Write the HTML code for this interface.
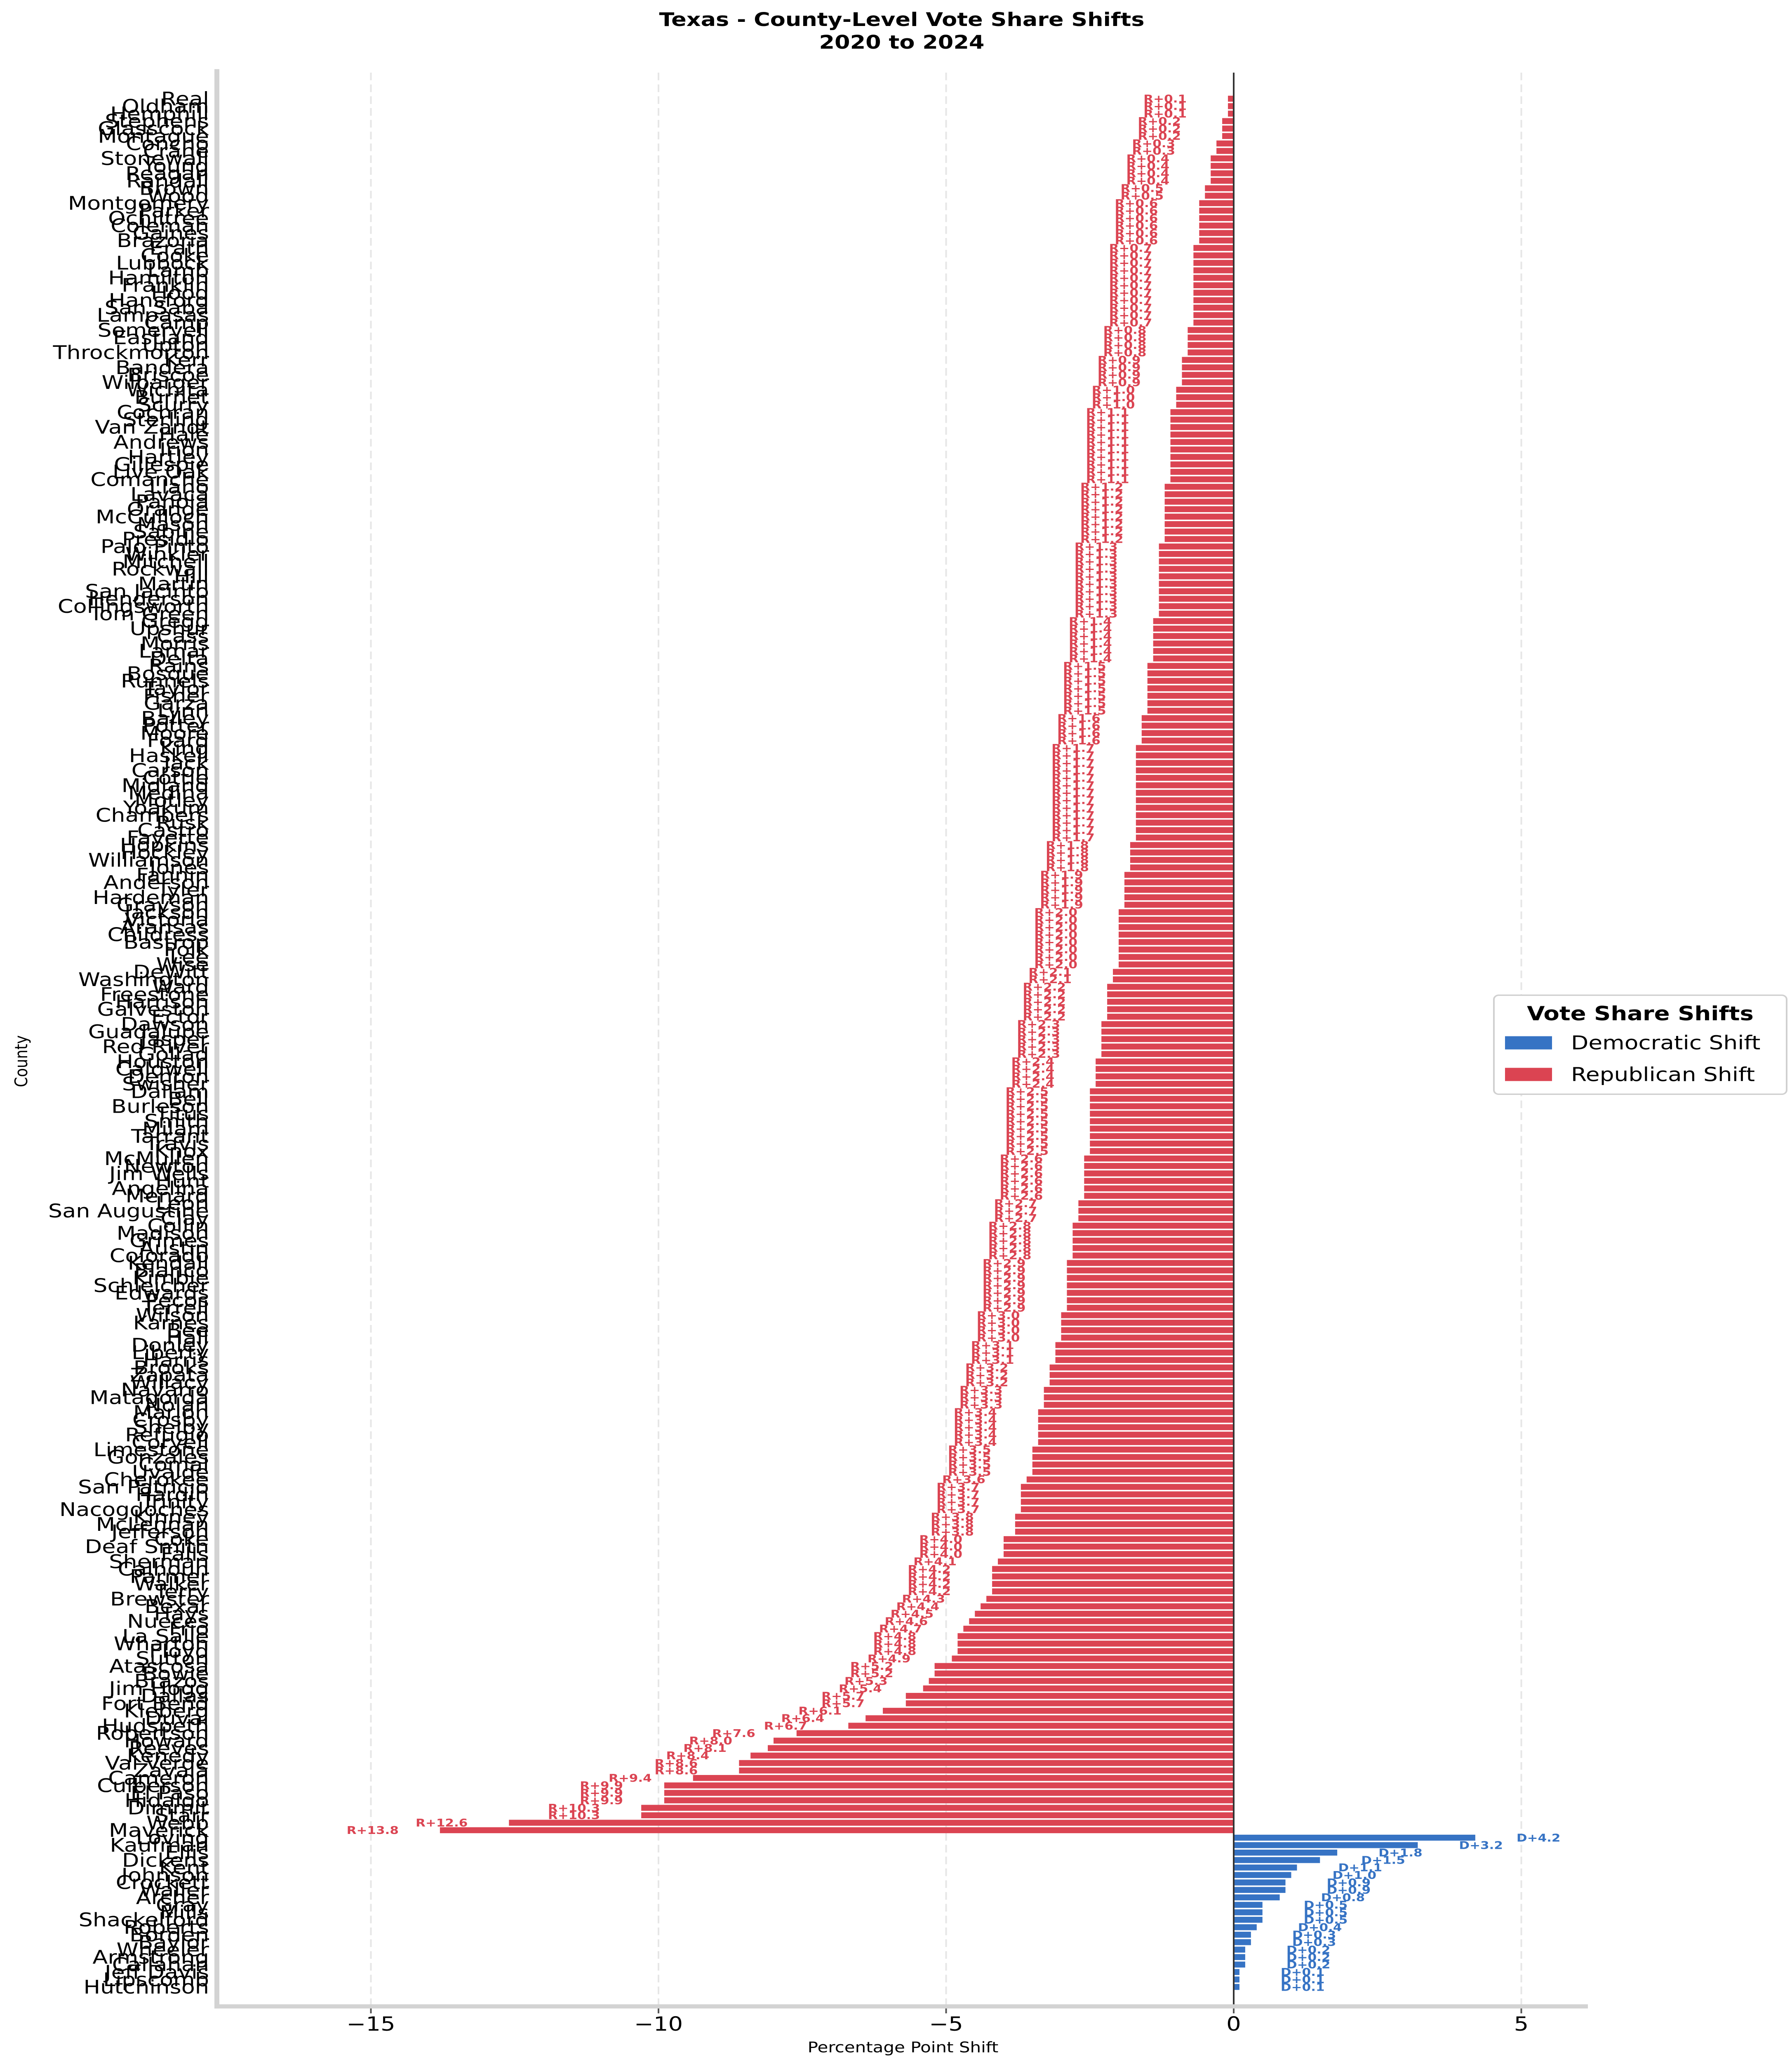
<!DOCTYPE html>
<html><head><meta charset="utf-8">
<style>
html,body{margin:0;padding:0;background:#fff;width:100%;height:100%;overflow:hidden;}
svg{display:block;position:fixed;left:0;top:0;width:100vw;height:100vh;font-family:"DejaVu Sans","Liberation Sans",sans-serif;}
</style></head>
<body>
<svg id="chart" xmlns="http://www.w3.org/2000/svg" viewBox="0 0 4346 5934" preserveAspectRatio="none">
<rect x="0" y="0" width="4346" height="5934" fill="#fff"/>
<text x="2187" y="75" text-anchor="middle" font-size="54" font-weight="bold">Texas - County-Level Vote Share Shifts</text>
<text x="2187" y="140" text-anchor="middle" font-size="54" font-weight="bold">2020 to 2024</text>
<g id="grid"></g>
<g id="bars"></g>
<g id="ylabels"></g>
<g id="xaxis"></g>
<text x="2190" y="5906" text-anchor="middle" font-size="42">Percentage Point Shift</text>
<text transform="translate(66,3054) rotate(-90)" text-anchor="middle" font-size="42">County</text>
<g>
<rect x="3623" y="2864" width="710" height="285" rx="12" fill="#fff" stroke="#d0d0d0" stroke-width="4"/>
<text x="3978" y="2936" text-anchor="middle" font-size="56" font-weight="bold">Vote Share Shifts</text>
<rect x="3650" y="2982" width="114" height="38" fill="#3673C4"/>
<text x="3810" y="3020" font-size="55">Democratic Shift</text>
<rect x="3650" y="3073" width="114" height="38" fill="#DB4452"/>
<text x="3810" y="3111" font-size="55">Republican Shift</text>
</g>
</svg>
<script>
const counties = ["Real","Oldham","Hemphill","Stephens","Glasscock","Montague","Concho","Crane","Stonewall","Young","Reagan","Randall","Brown","Wood","Montgomery","Parker","Ochiltree","Coleman","Gaines","Brazoria","Erath","Cooke","Lubbock","Lamb","Hamilton","Franklin","Hood","Hansford","San Saba","Lampasas","Camp","Somervell","Eastland","Upton","Throckmorton","Kerr","Bandera","Briscoe","Wilbarger","Wichita","Burnet","Scurry","Cochran","Sterling","Van Zandt","Hale","Andrews","Irion","Hartley","Gillespie","Live Oak","Comanche","Llano","Lavaca","Panola","Orange","McCulloch","Mason","Sabine","Presidio","Palo Pinto","Winkler","Mitchell","Rockwall","Hill","Martin","San Jacinto","Henderson","Collingsworth","Tom Green","Gregg","Upshur","Cass","Morris","Lamar","Delta","Rains","Bosque","Runnels","Taylor","Fisher","Garza","Lynn","Bailey","Potter","Moore","Foard","King","Haskell","Jack","Carson","Cottle","Midland","Medina","Motley","Yoakum","Chambers","Rusk","Castro","Fayette","Hopkins","Hockley","Williamson","Jones","Fannin","Anderson","Tyler","Hardeman","Grayson","Jackson","Victoria","Aransas","Childress","Bastrop","Polk","Lee","Wise","DeWitt","Washington","Ward","Freestone","Harrison","Galveston","Ector","Dawson","Guadalupe","Jasper","Red River","Goliad","Houston","Caldwell","Denton","Swisher","Dallam","Bell","Burleson","Titus","Smith","Milam","Tarrant","Travis","Knox","McMullen","Newton","Jim Wells","Hunt","Angelina","Menard","Leon","San Augustine","Clay","Collin","Madison","Grimes","Austin","Colorado","Kendall","Blanco","Kimble","Schleicher","Edwards","Pecos","Terrell","Wilson","Karnes","Bee","Hall","Donley","Liberty","Harris","Brooks","Zapata","Willacy","Navarro","Matagorda","Nolan","Marion","Crosby","Shelby","Refugio","Coryell","Limestone","Gonzales","Comal","Uvalde","Cherokee","San Patricio","Hardin","Trinity","Nacogdoches","Kinney","McLennan","Jefferson","Coke","Deaf Smith","Falls","Sherman","Calhoun","Parmer","Walker","Terry","Brewster","Bexar","Hays","Nueces","Frio","La Salle","Wharton","Floyd","Sutton","Atascosa","Bowie","Brazos","Jim Hogg","Dallas","Fort Bend","Kleberg","Duval","Hudspeth","Robertson","Howard","Reeves","Kenedy","Val Verde","Zavala","Cameron","Culberson","El Paso","Hidalgo","Dimmit","Starr","Webb","Maverick"];
const shifts = [-0.1,-0.1,-0.1,-0.2,-0.2,-0.2,-0.3,-0.3,-0.4,-0.4,-0.4,-0.4,-0.5,-0.5,-0.6,-0.6,-0.6,-0.6,-0.6,-0.6,-0.7,-0.7,-0.7,-0.7,-0.7,-0.7,-0.7,-0.7,-0.7,-0.7,-0.7,-0.8,-0.8,-0.8,-0.8,-0.9,-0.9,-0.9,-0.9,-1.0,-1.0,-1.0,-1.1,-1.1,-1.1,-1.1,-1.1,-1.1,-1.1,-1.1,-1.1,-1.1,-1.2,-1.2,-1.2,-1.2,-1.2,-1.2,-1.2,-1.2,-1.3,-1.3,-1.3,-1.3,-1.3,-1.3,-1.3,-1.3,-1.3,-1.3,-1.4,-1.4,-1.4,-1.4,-1.4,-1.4,-1.5,-1.5,-1.5,-1.5,-1.5,-1.5,-1.5,-1.6,-1.6,-1.6,-1.6,-1.7,-1.7,-1.7,-1.7,-1.7,-1.7,-1.7,-1.7,-1.7,-1.7,-1.7,-1.7,-1.7,-1.8,-1.8,-1.8,-1.8,-1.9,-1.9,-1.9,-1.9,-1.9,-2.0,-2.0,-2.0,-2.0,-2.0,-2.0,-2.0,-2.0,-2.1,-2.1,-2.2,-2.2,-2.2,-2.2,-2.2,-2.3,-2.3,-2.3,-2.3,-2.3,-2.4,-2.4,-2.4,-2.4,-2.5,-2.5,-2.5,-2.5,-2.5,-2.5,-2.5,-2.5,-2.5,-2.6,-2.6,-2.6,-2.6,-2.6,-2.6,-2.7,-2.7,-2.7,-2.8,-2.8,-2.8,-2.8,-2.8,-2.9,-2.9,-2.9,-2.9,-2.9,-2.9,-2.9,-3.0,-3.0,-3.0,-3.0,-3.1,-3.1,-3.1,-3.2,-3.2,-3.2,-3.3,-3.3,-3.3,-3.4,-3.4,-3.4,-3.4,-3.4,-3.5,-3.5,-3.5,-3.5,-3.6,-3.7,-3.7,-3.7,-3.7,-3.8,-3.8,-3.8,-4.0,-4.0,-4.0,-4.1,-4.2,-4.2,-4.2,-4.2,-4.3,-4.4,-4.5,-4.6,-4.7,-4.8,-4.8,-4.8,-4.9,-5.2,-5.2,-5.3,-5.4,-5.7,-5.7,-6.1,-6.4,-6.7,-7.6,-8.0,-8.1,-8.4,-8.6,-8.6,-9.4,-9.9,-9.9,-9.9,-10.3,-10.3,-12.6,-13.8,
4.2,3.2,1.8,1.5,1.1,1.0,0.9,0.9,0.8,0.5,0.5,0.5,0.4,0.3,0.3,0.2,0.2,0.2,0.1,0.1,0.1];
const demCounties = ["Loving","Kaufman","Ellis","Dickens","Kent","Johnson","Crockett","Waller","Archer","Gray","Mills","Shackelford","Roberts","Borden","Baylor","Wheeler","Armstrong","Callahan","Jeff Davis","Lipscomb","Hutchinson"];
const xTicks = [-15,-10,-5,0,5];
const xTickLabels = ["\u221215","\u221210","\u22125","0","5"];

const NS = "http://www.w3.org/2000/svg";
const X0 = 2992, UNIT = 139.5;
function xScale(v){ return X0 + v*UNIT; }
const nBars = shifts.length;
const Y_FIRST = 284, Y_LAST = 5718;
function yScale(i){ return Y_FIRST + i*(Y_LAST-Y_FIRST)/(nBars-1); }
const step = (Y_LAST-Y_FIRST)/(nBars-1);
const nR = shifts.filter(v=>v<0).length;
function nameAt(i){
  if (i < nR) return counties[i] || "";
  return demCounties[i-nR] || "";
}
function mk(tag, attrs){ const e=document.createElementNS(NS,tag); for(const k in attrs) e.setAttribute(k,attrs[k]); return e; }

const AX_TOP=209, AX_BOT=5774, AX_LEFT=526, AX_RIGHT=3851;
const grid=document.getElementById('grid');
xTicks.forEach(t=>{
  if(t===0) return;
  const l=mk('line',{x1:xScale(t),x2:xScale(t),y1:AX_TOP,y2:AX_BOT,stroke:'#e6e6e6','stroke-width':4,'stroke-dasharray':'22,12'});
  
  
  grid.appendChild(l);
});

const bars=document.getElementById('bars');
const yl=document.getElementById('ylabels');
shifts.forEach((v,i)=>{
  const y=yScale(i), h=step*0.8;
  const x1=Math.min(xScale(0),xScale(v)), w=Math.abs(xScale(v)-xScale(0));
  const r=mk('rect',{x:x1,y:y-h/2,width:w,height:h,fill:v<0?'#DB4452':'#3673C4'});
  
  
  bars.appendChild(r);
  const lab = (v<0?'R+':'D+')+Math.abs(v).toFixed(1);
  const t=mk('text',{x:v<0?xScale(v)-100:xScale(v)+100,y:y+11,'font-size':31,'font-weight':'bold',fill:v<0?'#DB4452':'#3673C4','text-anchor':v<0?'end':'start'});
  t.textContent=lab;
  
  
  bars.appendChild(t);
  const n=mk('text',{x:507,y:y+19,'font-size':54,'text-anchor':'end',fill:'#000'});
  n.textContent=nameAt(i);
  
  
  yl.appendChild(n);
});

const zl=mk('line',{x1:xScale(0),x2:xScale(0),y1:AX_TOP,y2:AX_BOT,stroke:'#333','stroke-width':4});


bars.appendChild(zl);

const xa=document.getElementById('xaxis');
const ls=mk('rect',{x:AX_LEFT-6,y:AX_TOP-10,width:12,height:AX_BOT-AX_TOP+16,fill:'#d3d3d3'});


xa.appendChild(ls);
const bs=mk('rect',{x:AX_LEFT-6,y:AX_BOT-6,width:AX_RIGHT-AX_LEFT+6,height:12,fill:'#d3d3d3'});


xa.appendChild(bs);
xTicks.forEach((t,i)=>{
  const tk=mk('line',{x1:xScale(t),x2:xScale(t),y1:AX_BOT+6,y2:AX_BOT+20,stroke:'#555','stroke-width':4});
  
  
  xa.appendChild(tk);
  const tl=mk('text',{x:xScale(t),y:5844,'font-size':56,'text-anchor':'middle',fill:'#000'});
  tl.textContent=xTickLabels[i];
  
  
  xa.appendChild(tl);
});
</script>
</body></html>
